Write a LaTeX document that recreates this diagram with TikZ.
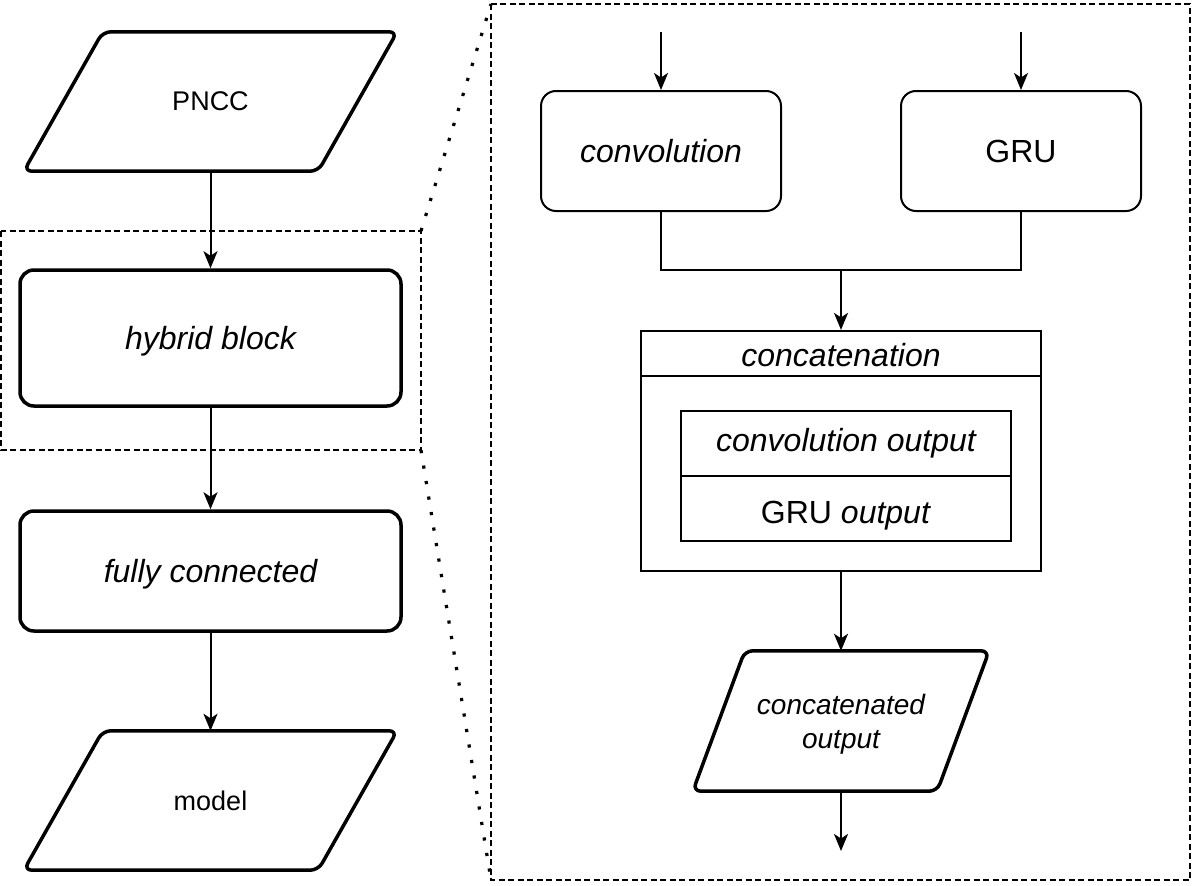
\documentclass[tikz,border=0pt]{standalone}
\usepackage{fontspec}
\setmainfont{Liberation Sans}
\usetikzlibrary{arrows.meta}
\begin{document}
\begin{tikzpicture}[x=1pt,y=-1pt,
  bigbox/.style={draw, line width=3.5pt, rounded corners=14pt, minimum width=381pt, inner sep=0pt, text depth=0pt, font=\fontsize{32}{38}\selectfont\itshape},
  smallbox/.style={draw, line width=2pt, rounded corners=15pt, minimum width=240pt, minimum height=120pt, inner sep=0pt, font=\fontsize{32}{38}\selectfont},
  paraarea/.style={minimum width=#1, inner sep=0pt, align=center},
  para/.style={draw, line width=3.5pt, rounded corners=8pt, line join=round},
  plainbox/.style={draw, line width=2.2pt, inner sep=0pt},
  label/.style={inner sep=0pt, font=\fontsize{32}{38}\selectfont\itshape},
  conn/.style={line width=2pt, -{Stealth[length=17pt,width=14pt,inset=4.5pt]}},
  wire/.style={line width=2pt},
  dashbox/.style={line width=2.2pt, dash pattern=on 6pt off 3.5pt},
  dotline/.style={line width=3.2pt, dash pattern=on 3.2pt off 12.5pt}
]
\useasboundingbox (0,0) rectangle (1192,886);

% ---------- left column ----------
\node[paraarea=373pt, minimum height=139pt, font=\fontsize{27}{32}\selectfont] (pncc) at (210.5,101.5) {PNCC};
\draw[para] ([xshift=79pt]pncc.north west) -- (pncc.north east) -- ([xshift=-79pt]pncc.south east) -- (pncc.south west) -- cycle;

\node[bigbox, minimum height=136pt] (hyb) at (210.5,338) {hybrid block};
\node[bigbox, minimum height=120pt] (fc) at (210.5,571) {fully connected};

\node[paraarea=373pt, minimum height=139pt, font=\fontsize{27}{32}\selectfont] (model) at (210.5,800.5) {model};
\draw[para] ([xshift=79pt]model.north west) -- (model.north east) -- ([xshift=-79pt]model.south east) -- (model.south west) -- cycle;

\draw[conn] (pncc.south) -- (hyb.north);
\draw[conn] (hyb.south) -- (fc.north);
\draw[conn] (fc.south) -- (model.north);

% ---------- zoom frames ----------
\coordinate (hA) at (1,231);
\coordinate (hB) at (421,450);
\coordinate (rA) at (491,4);
\coordinate (rB) at (1190,880);
\draw[dashbox] (hA) rectangle (hB);
\draw[dashbox] (rA) rectangle (rB);
\coordinate (hTR) at (421,231);
\coordinate (rBL) at (491,880);
\draw[dotline] (hTR) -- (rA);
\draw[dotline] (hB) -- (rBL);

% ---------- right detail ----------
\node[smallbox, font=\fontsize{32}{38}\selectfont\itshape] (conv) at (661,151) {convolution};
\node[smallbox] (gru) at (1021,151) {GRU};
\coordinate (cin) at (661,32);
\coordinate (gin) at (1021,32);
\draw[conn] (cin) -- (conv.north);
\draw[conn] (gin) -- (gru.north);

\node[plainbox, minimum width=400pt, minimum height=240pt] (concat) at (841,451) {};
\draw[line width=2.2pt] ([yshift=-46pt]concat.north west) -- ([yshift=-46pt]concat.north east);
\node[label] (concatlbl) at (841,355) {concatenation};

\node[plainbox, minimum width=330pt, minimum height=130pt] (inner) at (846,476) {};
\draw[line width=1.8pt] (inner.west) -- (inner.east);
\node[label] (convout) at (846,443) {convolution output};
\node[label, font=\fontsize{32}{38}\selectfont] (gruout) at (846,516) {GRU \textit{output}};

\coordinate (j) at (841,270);
\draw[wire] (conv.south) |- (j) -| (gru.south);
\draw[conn] (j) -- (concat.north);

\node[paraarea=296pt, minimum height=140pt, font=\fontsize{28}{34}\selectfont\itshape] (cat) at (841,721) {};
\node[inner sep=0pt, align=center, font=\fontsize{28}{34}\selectfont\itshape] (catlbl) at (841,724) {concatenated\\output};
\draw[para] ([xshift=52pt]cat.north west) -- (cat.north east) -- ([xshift=-52pt]cat.south east) -- (cat.south west) -- cycle;
\draw[conn] (concat.south) -- (cat.north);
\coordinate (catout) at (841,851);
\draw[conn] (cat.south) -- (catout);
\end{tikzpicture}
\end{document}
